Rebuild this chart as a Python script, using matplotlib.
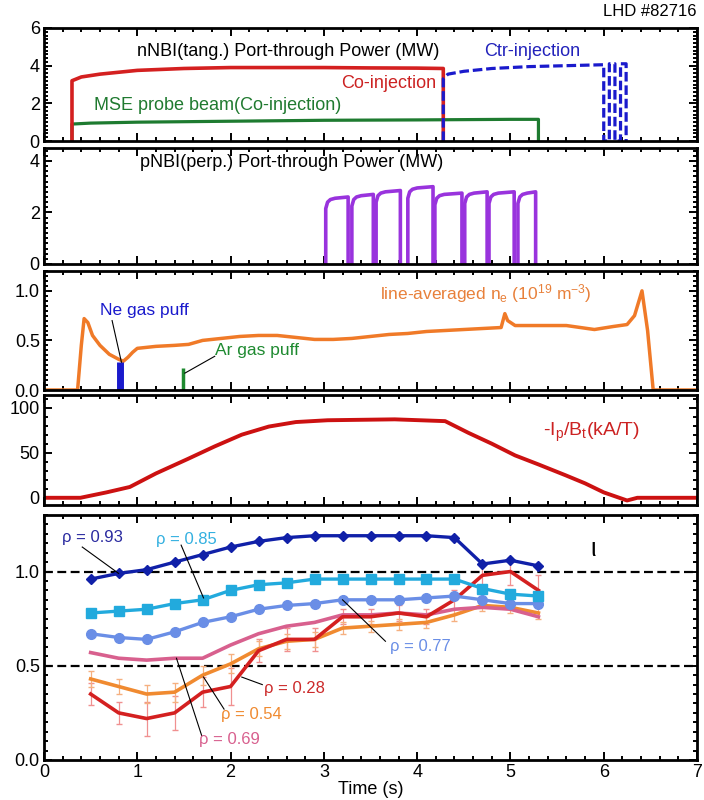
import numpy as np
import matplotlib
matplotlib.use('Agg')
import matplotlib.pyplot as plt
from matplotlib.ticker import MultipleLocator

plt.rcParams['font.family'] = ['Liberation Sans', 'DejaVu Sans']
plt.rcParams['mathtext.fontset'] = 'custom'
plt.rcParams['mathtext.rm'] = 'Liberation Sans'
plt.rcParams['mathtext.it'] = 'Liberation Sans:italic'

# --- panel 1: nNBI (tangential) port-through power (MW)
co_t = [0.30, 0.30, 0.40, 0.6, 1.0, 1.5, 2.0, 2.5, 3.0, 3.5, 4.0, 4.28, 4.28]
co_p = [0.0, 3.2, 3.4, 3.55, 3.75, 3.85, 3.9, 3.9, 3.9, 3.88, 3.87, 3.85, 0.0]
ctr_t = [4.28, 4.28, 4.33, 4.5, 4.8, 5.2, 5.6, 6.0, 6.0, 6.06, 6.06, 6.12, 6.12, 6.18, 6.18, 6.24, 6.24]
ctr_p = [0.0, 3.3, 3.55, 3.7, 3.85, 3.95, 4.0, 4.05, 0.0, 0.0, 4.1, 4.1, 0.0, 0.0, 4.1, 4.1, 0.0]
mse_t = [0.30, 0.30, 0.5, 1.0, 2.0, 3.0, 4.0, 5.0, 5.30, 5.30]
mse_p = [0.0, 0.9, 0.95, 1.0, 1.05, 1.1, 1.12, 1.15, 1.15, 0.0]

# --- panel 2: pNBI (perpendicular) pulses
pnbi_on = [3.02, 3.30, 3.56, 3.90, 4.19, 4.51, 4.77, 5.08]
pnbi_off = [3.26, 3.53, 3.82, 4.17, 4.48, 4.75, 5.04, 5.27]
pnbi_lvl = [2.6, 2.7, 2.85, 3.0, 2.75, 2.8, 2.8, 2.8]

# --- panel 3: line-averaged density
ne_t = [0.0, 0.36, 0.40, 0.43, 0.47, 0.52, 0.6, 0.7, 0.8, 0.85, 0.9, 0.95, 1.0, 1.2, 1.4,
        1.55, 1.7, 1.9, 2.1, 2.3, 2.5, 2.7, 2.9, 3.1, 3.3, 3.5, 3.7, 3.9, 4.1, 4.3, 4.5,
        4.7, 4.9, 4.94, 4.97, 5.05, 5.3, 5.6, 5.9, 6.1, 6.25, 6.33, 6.41, 6.47, 6.53, 7.0]
ne_v = [0.0, 0.0, 0.45, 0.72, 0.68, 0.55, 0.45, 0.36, 0.31, 0.29, 0.33, 0.38, 0.42, 0.44, 0.45,
        0.46, 0.5, 0.52, 0.54, 0.55, 0.55, 0.53, 0.51, 0.51, 0.52, 0.54, 0.56, 0.57, 0.59, 0.6, 0.61,
        0.62, 0.63, 0.77, 0.7, 0.65, 0.65, 0.65, 0.61, 0.64, 0.66, 0.75, 1.0, 0.6, 0.0, 0.0]
ne_puff_t, ne_puff_h = 0.81, 0.28
ar_puff_t, ar_puff_h = 1.49, 0.22

# --- panel 4: -Ip/Bt (kA/T)
ip_t = [0.0, 0.39, 0.67, 0.92, 1.2, 1.54, 1.83, 2.12, 2.41, 2.70, 3.04, 3.76, 4.30,
        4.55, 4.8, 5.05, 5.30, 5.59, 5.8, 6.0, 6.25, 6.36, 7.0]
ip_v = [0, 0, 6, 12, 27, 43, 57, 70, 79, 84, 86, 87, 85,
        72, 60, 47, 37, 25, 16, 6, -3, 0, 0]

# --- panel 5: rotational transform profiles
iota_t = [0.5, 0.8, 1.1, 1.4, 1.7, 2.0, 2.3, 2.6, 2.9, 3.2, 3.5, 3.8, 4.1, 4.4, 4.7, 5.0, 5.3]
iota_93 = [0.96, 0.99, 1.01, 1.05, 1.09, 1.13, 1.16, 1.18, 1.19, 1.19, 1.19, 1.19, 1.19, 1.18, 1.04, 1.06, 1.03]
iota_85 = [0.78, 0.79, 0.80, 0.83, 0.85, 0.90, 0.93, 0.94, 0.96, 0.96, 0.96, 0.96, 0.96, 0.96, 0.91, 0.88, 0.87]
iota_77 = [0.67, 0.65, 0.64, 0.68, 0.73, 0.76, 0.80, 0.82, 0.83, 0.85, 0.85, 0.85, 0.86, 0.87, 0.85, 0.83, 0.83]
iota_69 = [0.57, 0.54, 0.53, 0.54, 0.54, 0.61, 0.67, 0.71, 0.73, 0.77, 0.77, 0.78, 0.77, 0.80, 0.81, 0.80, 0.76]
iota_54 = [0.43, 0.39, 0.35, 0.36, 0.45, 0.51, 0.59, 0.63, 0.64, 0.70, 0.71, 0.72, 0.73, 0.77, 0.82, 0.81, 0.78]
iota_28 = [0.35, 0.25, 0.22, 0.25, 0.36, 0.39, 0.58, 0.64, 0.64, 0.76, 0.76, 0.78, 0.76, 0.85, 0.98, 1.00, 0.90]
err_54 = [0.04, 0.04, 0.05, 0.05, 0.05, 0.05, 0.04, 0.04, 0.04, 0.03, 0.03, 0.03, 0.03, 0.03, 0.03, 0.03, 0.03]
err_28 = [0.06, 0.06, 0.09, 0.09, 0.08, 0.1, 0.06, 0.06, 0.06, 0.04, 0.04, 0.04, 0.04, 0.05, 0.06, 0.07, 0.08]


def style(ax, ylim, ymaj, ymin, labels=False):
    ax.set_xlim(0, 7)
    ax.set_ylim(*ylim)
    ax.xaxis.set_major_locator(MultipleLocator(1))
    ax.xaxis.set_minor_locator(MultipleLocator(0.2))
    ax.yaxis.set_major_locator(MultipleLocator(ymaj))
    ax.yaxis.set_minor_locator(MultipleLocator(ymin))
    ax.tick_params(which='both', direction='in', top=True, right=True, width=1.4,
                   labelbottom=labels, labelsize=13, pad=3)
    ax.tick_params(which='major', length=6)
    ax.tick_params(which='minor', length=3)
    for s in ax.spines.values():
        s.set_linewidth(2)


fig = plt.figure(figsize=(7.04, 8.0), dpi=100)
L, W = 0.0625, 0.9276
ax1 = fig.add_axes([L, 0.82375, W, 0.14125])
ax2 = fig.add_axes([L, 0.67, W, 0.145])
ax3 = fig.add_axes([L, 0.5125, W, 0.14875])
ax4 = fig.add_axes([L, 0.36875, W, 0.1375])
ax5 = fig.add_axes([L, 0.05, W, 0.30625])

# panel 1
ax1.plot(mse_t, mse_p, color='#1e7b30', lw=2.3)
ax1.plot(co_t, co_p, color='#d42020', lw=2.6)
ax1.plot(ctr_t, ctr_p, color='#1a1acc', lw=2.3, ls=(0, (3, 1.2)))
style(ax1, (0, 6), 2, 0.2)
ax1.text(1.0, 4.75, 'nNBI(tang.) Port-through Power (MW)', fontsize=13, va='center')
ax1.text(4.72, 4.75, 'Ctr-injection', fontsize=13, color='#2222bb', va='center')
ax1.text(4.2, 3.05, 'Co-injection', fontsize=13, color='#cc2222', va='center', ha='right')
ax1.text(0.54, 1.9, 'MSE probe beam(Co-injection)', fontsize=13, color='#207a30', va='center')
fig.text(0.99, 0.985, 'LHD #82716', fontsize=12, ha='right', va='center')

# panel 2
for t0, t1, h in zip(pnbi_on, pnbi_off, pnbi_lvl):
    ax2.plot([t0, t0, t0 + 0.02, t0 + 0.05, t0 + 0.1, t1, t1],
             [0, h - 0.45, h - 0.2, h - 0.1, h - 0.05, h, 0], color='#9933dd', lw=2.6)
style(ax2, (0, 4.5), 2, 0.2)
ax2.text(1.03, 3.95, 'pNBI(perp.) Port-through Power (MW)', fontsize=13, va='center')

# panel 3
ax3.plot(ne_t, ne_v, color='#f07a28', lw=2.5)
ax3.plot([ne_puff_t, ne_puff_t], [0, ne_puff_h], color='#1a1acc', lw=5, solid_capstyle='butt')
ax3.plot([ar_puff_t, ar_puff_t], [0, ar_puff_h], color='#1e8a30', lw=2.5, solid_capstyle='butt')
style(ax3, (0, 1.2), 0.5, 0.05)
ax3.text(0.6, 0.8, 'Ne gas puff', fontsize=12.5, color='#1a1acc', va='center')
ax3.plot([0.73, ne_puff_t + 0.02], [0.7, ne_puff_h], color='black', lw=0.8)
ax3.text(1.83, 0.4, 'Ar gas puff', fontsize=12.5, color='#1e8a30', va='center')
ax3.plot([1.83, ar_puff_t + 0.02], [0.34, 0.17], color='black', lw=0.8)
ax3.text(3.6, 0.97, r'line-averaged n$_\mathregular{e}$ (10$^\mathregular{19}$ m$^\mathregular{-3}$)',
         fontsize=12.5, color='#e8803a', va='center')

# panel 4
ax4.plot(ip_t, ip_v, color='#cc1111', lw=2.8)
style(ax4, (-8, 114), 50, 10)
ax4.text(5.35, 72, r'-I$_\mathregular{p}$/B$_\mathregular{t}$(kA/T)', fontsize=14,
         color='#cc2222', va='center')

# panel 5
ax5.axhline(1.0, color='black', lw=1.6, ls=(0, (4, 2)))
ax5.axhline(0.5, color='black', lw=1.6, ls=(0, (4, 2)))
ax5.errorbar(iota_t, iota_28, yerr=err_28, fmt='none', ecolor='#f09090', elinewidth=0.9, capsize=2)
ax5.errorbar(iota_t, iota_54, yerr=err_54, fmt='none', ecolor='#f5b080', elinewidth=0.9, capsize=2)
ax5.plot(iota_t, iota_54, color='#f08a30', lw=2.6)
ax5.plot(iota_t, iota_69, color='#d8608e', lw=2.6)
ax5.plot(iota_t, iota_28, color='#d42020', lw=2.6)
ax5.plot(iota_t, iota_77, color='#6a8ee6', lw=2.4, marker='o', ms=7)
ax5.plot(iota_t, iota_85, color='#22aadd', lw=2.4, marker='s', ms=7.5)
ax5.plot(iota_t, iota_93, color='#1020a8', lw=2.4, marker='D', ms=5.5)
style(ax5, (0, 1.3), 0.5, 0.05, labels=True)
ax5.set_xlabel('Time (s)', fontsize=13, labelpad=0)

lbl = [('ρ = 0.93', 0.19, 1.18, '#2a2aa0', (0.41, 1.13), (0.8, 0.99)),
       ('ρ = 0.85', 1.2, 1.17, '#33b0e0', (1.47, 1.14), (1.71, 0.86)),
       ('ρ = 0.77', 3.71, 0.60, '#6a8ee6', (3.66, 0.63), (3.2, 0.85)),
       ('ρ = 0.28', 2.36, 0.38, '#cc2a2a', (2.34, 0.40), (2.12, 0.44)),
       ('ρ = 0.54', 1.9, 0.24, '#f08a30', (1.93, 0.27), (1.71, 0.44)),
       ('ρ = 0.69', 1.66, 0.11, '#d8608e', (1.69, 0.13), (1.42, 0.54))]
for txt, x, y, c, p0, p1 in lbl:
    ax5.text(x, y, txt, fontsize=12, color=c, va='center')
    ax5.plot([p0[0], p1[0]], [p0[1], p1[1]], color='black', lw=0.8)
ax5.text(5.86, 1.12, 'ι', fontsize=18, va='center')

fig.savefig('out.png', dpi=100)
